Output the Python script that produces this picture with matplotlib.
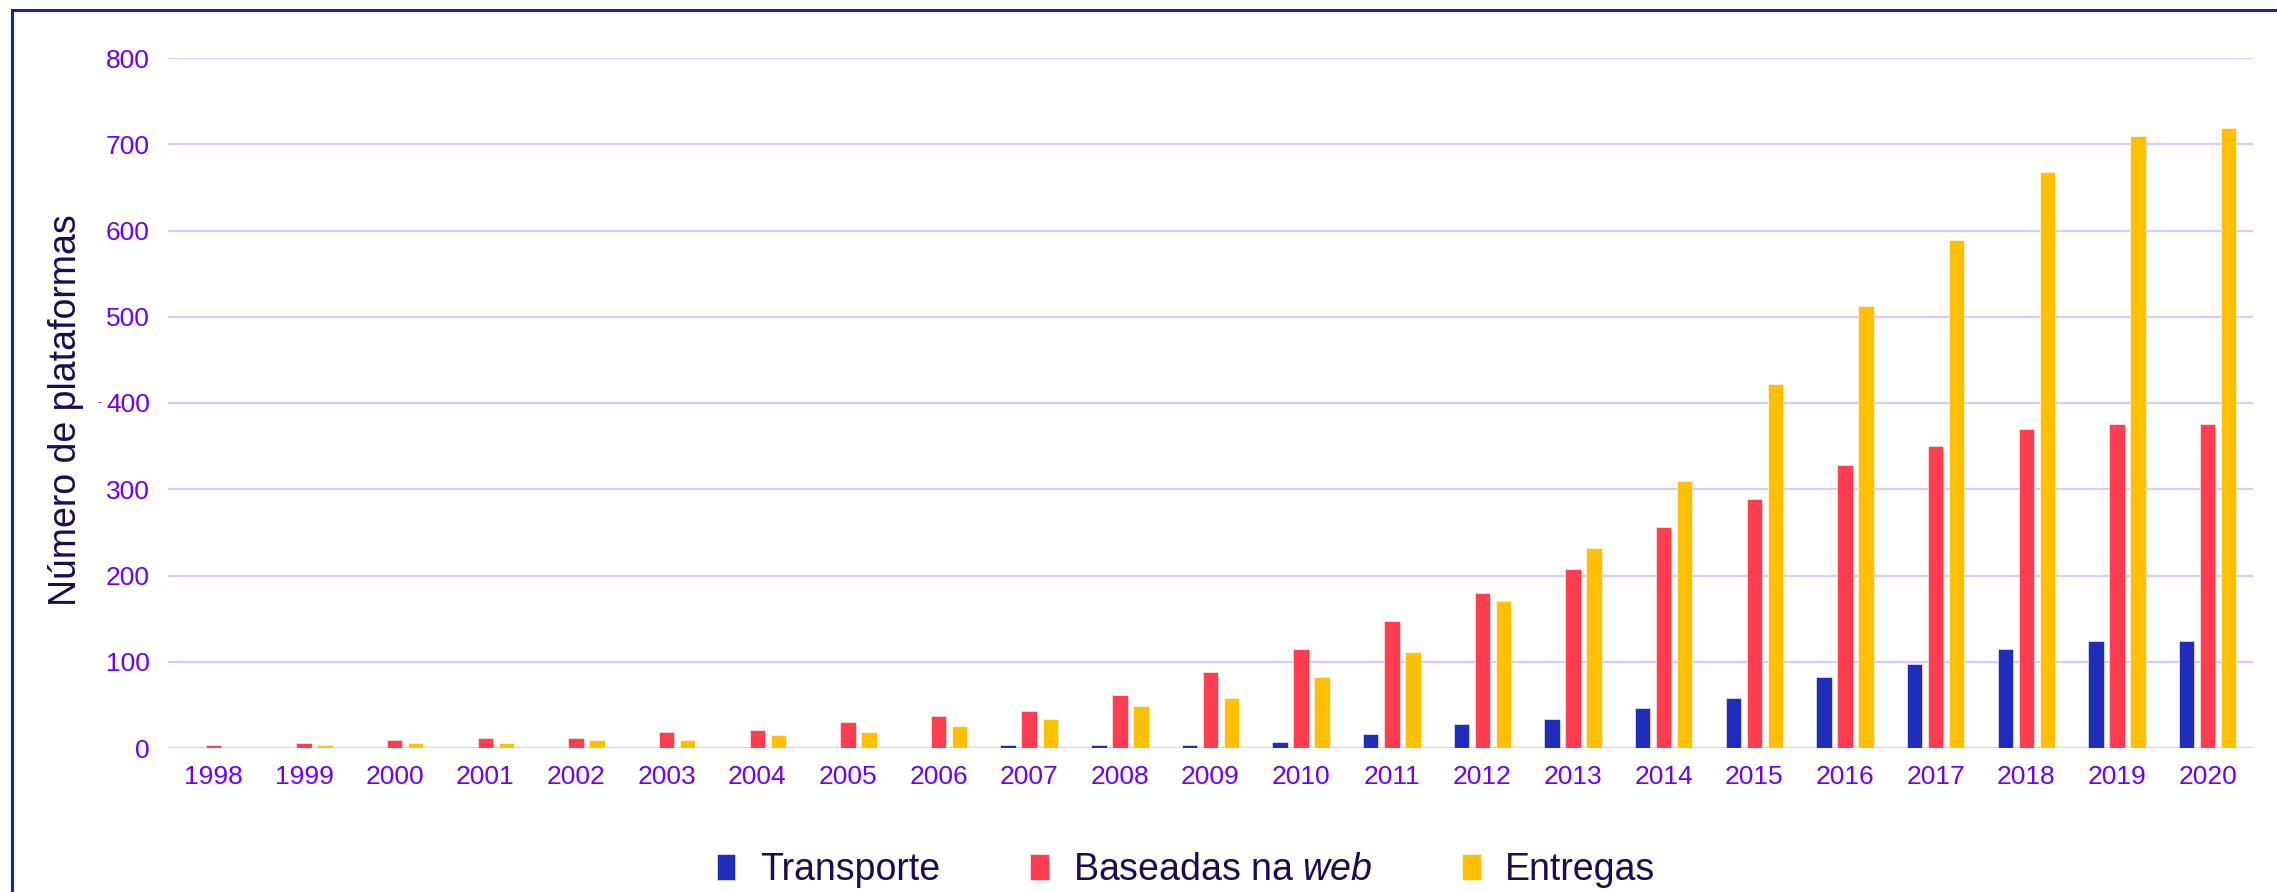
import matplotlib
matplotlib.use("Agg")
import matplotlib.pyplot as plt
from matplotlib.patches import Rectangle
import numpy as np

years = [str(y) for y in range(1998, 2021)]
transporte = [0, 0, 0, 0, 0, 0, 0, 0, 0, 4, 4, 4, 7, 16, 28, 34, 46, 58, 82, 97, 115, 124, 124]
baseadas = [3, 6, 9, 12, 12, 18, 21, 30, 37, 43, 61, 88, 115, 147, 180, 207, 256, 289, 328, 350, 370, 376, 376]
entregas = [0, 3, 6, 6, 9, 9, 15, 18, 25, 34, 49, 58, 82, 111, 171, 232, 310, 422, 513, 589, 668, 710, 719]
series_labels = ["Transporte", "Baseadas na $\\it{web}$", "Entregas"]
yticks = [0, 100, 200, 300, 400, 500, 600, 700, 800]

plt.rcParams['font.family'] = ['Liberation Sans', 'DejaVu Sans']
plt.rcParams['mathtext.fontset'] = 'custom'
plt.rcParams['mathtext.rm'] = 'Liberation Sans'
plt.rcParams['mathtext.it'] = 'Liberation Sans:italic'

W, H = 2277, 892
AX_L, AX_R, AX_T, AX_B = 168, 2253, 58, 748
fig = plt.figure(figsize=(W / 100, H / 100), dpi=100)
ax = fig.add_axes([AX_L / W, 1 - AX_B / H, (AX_R - AX_L) / W, (AX_B - AX_T) / H])

colors = ["#1f2dbd", "#ff3d4f", "#ffc000"]
tick_color = "#6e00f5"
text_color = "#1e0a50"
grid_color = "#dcc8ff"

x = np.arange(len(years))
bw = 0.17
off = 0.232
for i, (vals, c, lab) in enumerate(zip([transporte, baseadas, entregas], colors, series_labels)):
    ax.bar(x + (i - 1) * off, vals, width=bw, color=c, label=lab, zorder=3,
           edgecolor='white', linewidth=0.4)

ax.set_xlim(-0.5, len(years) - 0.5)
ax.set_ylim(0, 800)
ax.set_yticks(yticks)
ax.set_xticks(x)
ax.set_xticklabels(years)
ax.tick_params(axis='both', length=0, labelsize=19, labelcolor=tick_color)
ax.tick_params(axis='y', pad=13)
ax.tick_params(axis='x', pad=12)
ax.grid(axis='y', color=grid_color, linewidth=1.6, zorder=0)
ax.set_axisbelow(True)
for s in ax.spines.values():
    s.set_visible(False)

ax.set_ylabel("Número de plataformas", fontsize=27, color=text_color)
ax.yaxis.set_label_coords((84 - AX_L) / (AX_R - AX_L), 0.49)

fig.text(99 / W, 1 - 403 / H, "-", fontsize=9, color=tick_color, ha='center', va='center')

leg = ax.legend(loc='center',
                bbox_to_anchor=((1186 - AX_L) / (AX_R - AX_L), (AX_B - 870) / (AX_B - AX_T)),
                ncol=3, frameon=False, fontsize=27, handlelength=0.5, handleheight=0.72,
                handletextpad=0.65, columnspacing=2.4, labelcolor=text_color)

fig.patches.append(Rectangle((12 / W, -0.2), 1.5, 1.2 - 10 / H, transform=fig.transFigure,
                             fill=False, edgecolor="#1a2696", linewidth=2.2))

fig.savefig("out.png", dpi=100)
